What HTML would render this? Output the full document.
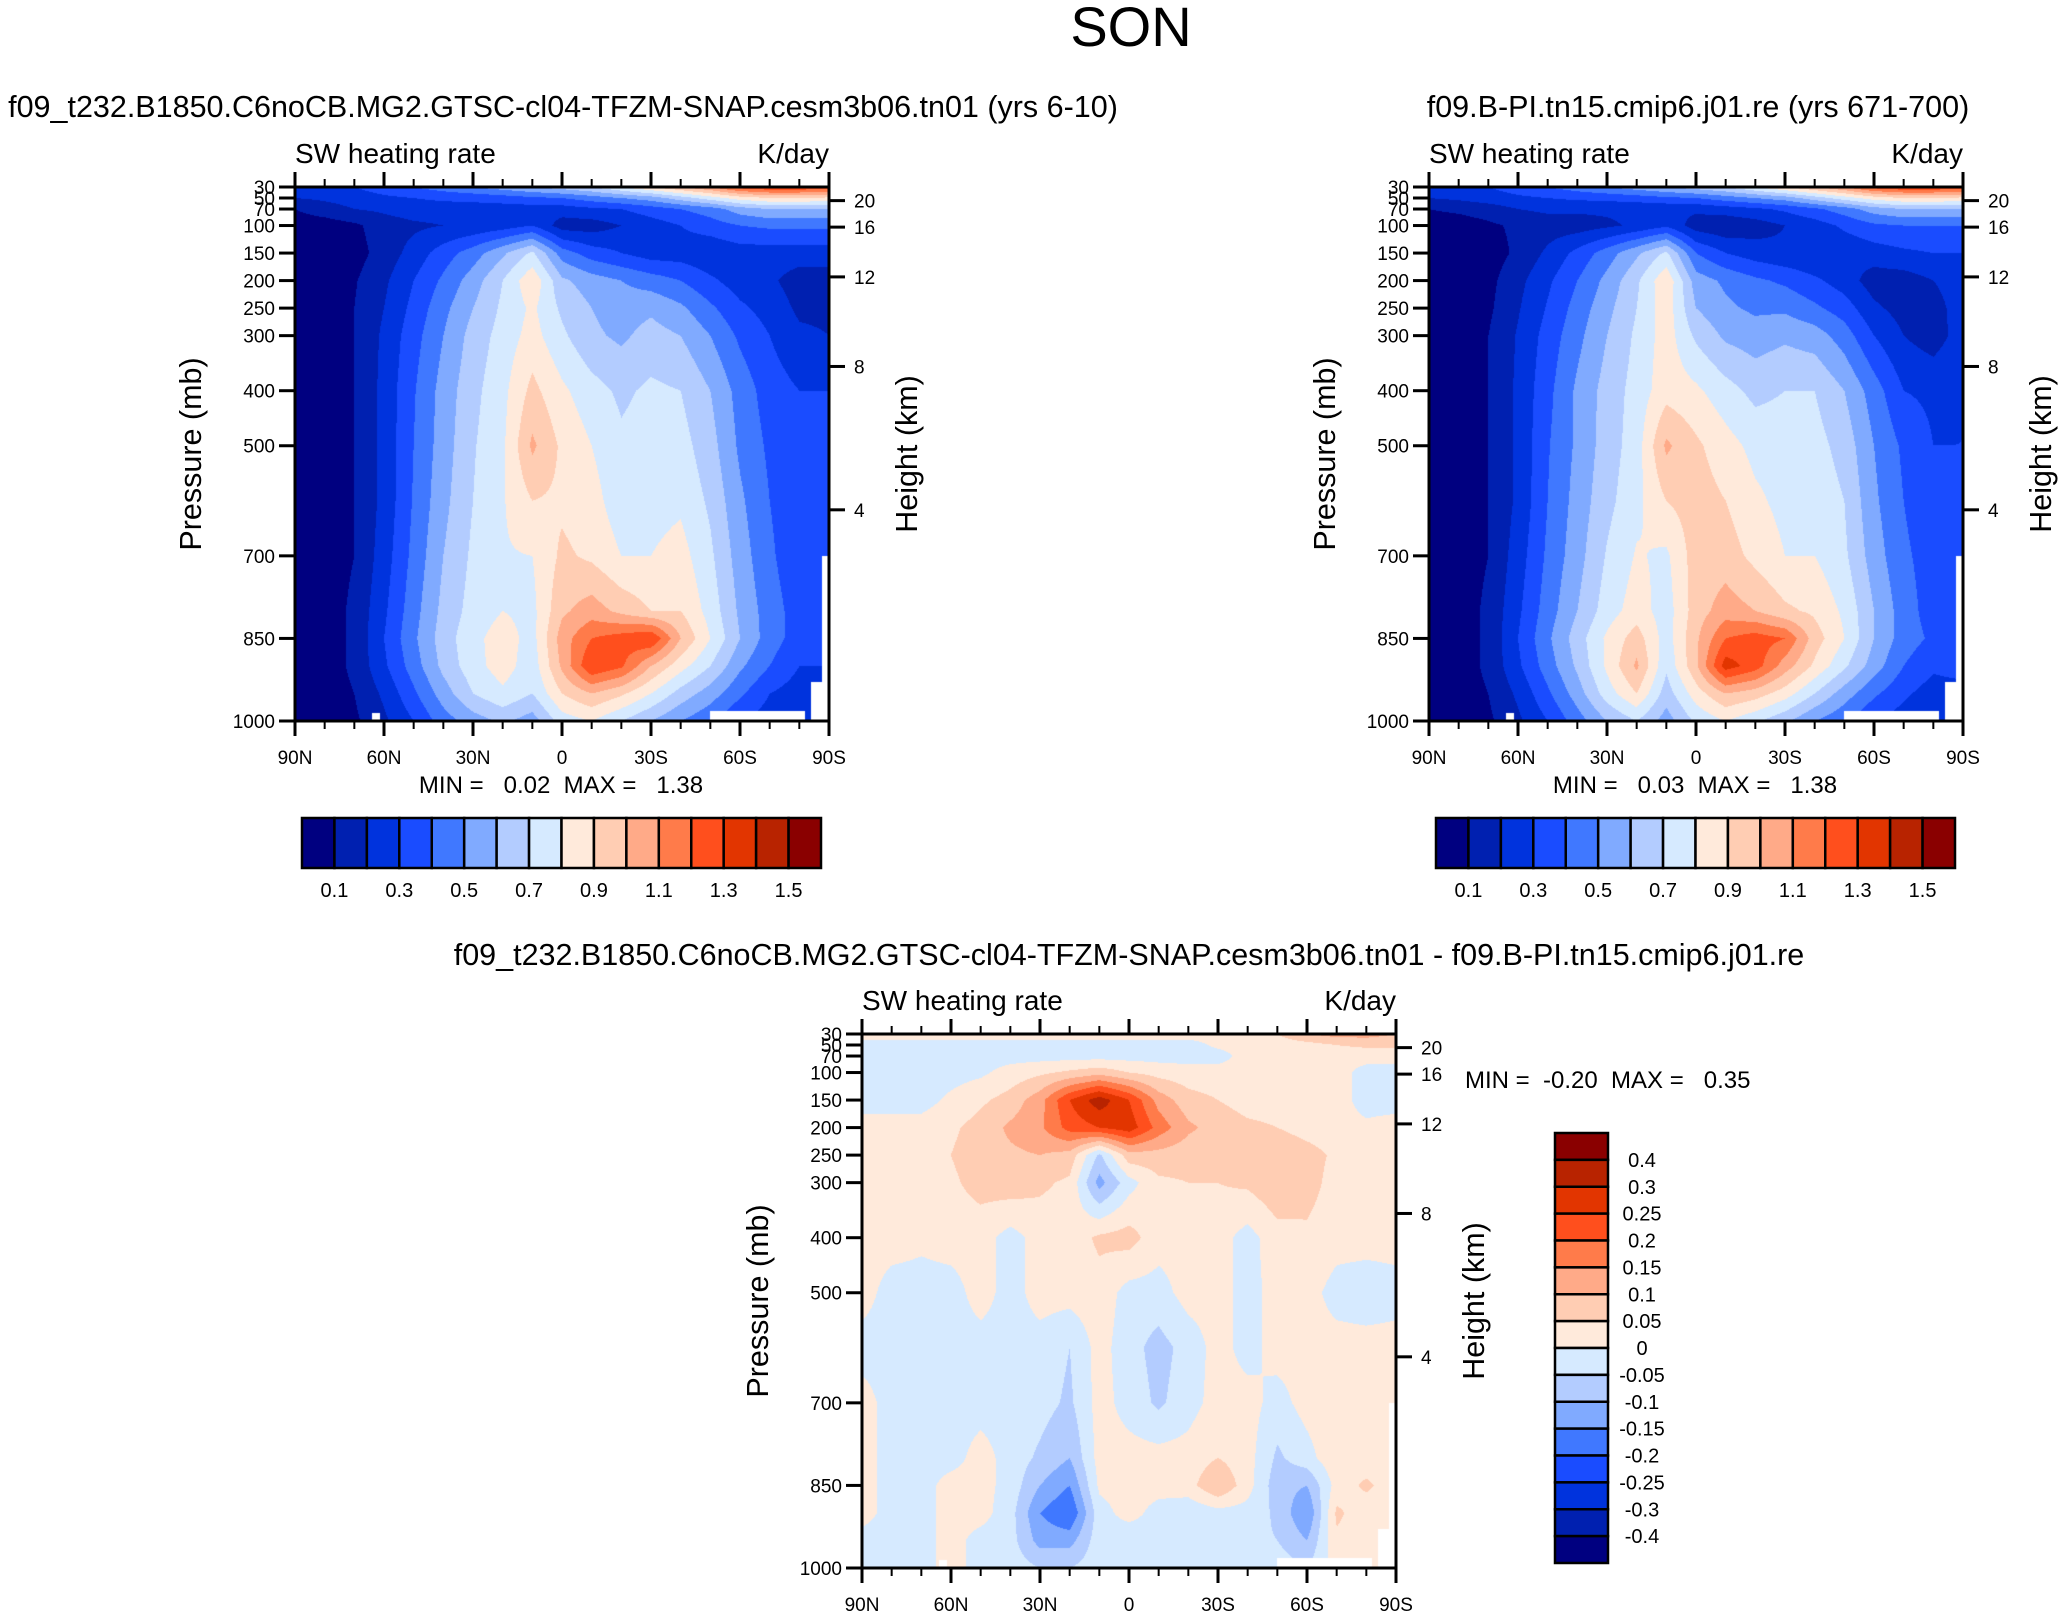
<!DOCTYPE html>
<html><head><meta charset="utf-8"><style>
html,body{margin:0;padding:0;background:#fff;}
#wrap{position:relative;width:2063px;height:1617px;overflow:hidden;background:#fff;}
canvas{position:absolute;}
svg{position:absolute;left:0;top:0;}
text{font-family:"Liberation Sans",sans-serif;fill:#000;white-space:pre;}
</style></head><body>
<div id="wrap">
<canvas id="c1"></canvas>
<canvas id="c2"></canvas>
<canvas id="c3"></canvas>
<svg id="s" width="2063" height="1617">
<text x="1131" y="46" font-size="56" text-anchor="middle">SON</text>
<text x="563" y="117" font-size="30.5" text-anchor="middle">f09_t232.B1850.C6noCB.MG2.GTSC-cl04-TFZM-SNAP.cesm3b06.tn01 (yrs 6-10)</text>
<text x="1698" y="117" font-size="30.5" text-anchor="middle">f09.B-PI.tn15.cmip6.j01.re (yrs 671-700)</text>
<text x="1129" y="965" font-size="30.5" text-anchor="middle">f09_t232.B1850.C6noCB.MG2.GTSC-cl04-TFZM-SNAP.cesm3b06.tn01 - f09.B-PI.tn15.cmip6.j01.re</text>
</svg>
</div>
<script>
var lats=[90,80,70,60,50,40,30,20,10,0,-10,-20,-30,-40,-50,-60,-70,-80,-90];
var levs=[30,50,70,100,150,200,250,300,400,500,600,700,800,850,900,950,1000];
var palette=["#000080","#0020b0","#0033dd","#1a4cff","#4078ff","#80aaff","#b3ccff","#d6eaff","#ffeadb","#ffcdb3","#ffaa88","#ff7b4a","#ff4f1d","#e23500","#b82300","#8a0000"];
var bounds1=[0.1,0.2,0.3,0.4,0.5,0.6,0.7,0.8,0.9,1.0,1.1,1.2,1.3,1.4,1.5];
var cbLabels1=["0.1","0.3","0.5","0.7","0.9","1.1","1.3","1.5"];
var bounds3=[-0.4,-0.3,-0.25,-0.2,-0.15,-0.1,-0.05,0,0.05,0.1,0.15,0.2,0.25,0.3,0.4];
var cbLabels3=["-0.4","-0.3","-0.25","-0.2","-0.15","-0.1","-0.05","0","0.05","0.1","0.15","0.2","0.25","0.3","0.4"];
var presTicks=[30,50,70,100,150,200,250,300,400,500,700,850,1000];
var heightTicks=[4,8,12,16,20];
var latTickLabels=["90N","60N","30N","0","30S","60S","90S"];
var field1=[
[0.3,0.3,0.3,0.35,0.4,0.45,0.5,0.55,0.6,0.65,0.7,0.8,0.9,1.0,1.1,1.25,1.3,1.3,1.25],
[0.2,0.22,0.25,0.28,0.3,0.32,0.33,0.35,0.38,0.4,0.45,0.5,0.55,0.65,0.75,0.85,0.9,0.9,0.88],
[0.1,0.15,0.2,0.22,0.25,0.25,0.25,0.25,0.25,0.25,0.28,0.3,0.35,0.4,0.45,0.55,0.6,0.6,0.6],
[0.05,0.05,0.08,0.15,0.18,0.2,0.22,0.25,0.3,0.15,0.15,0.2,0.25,0.3,0.35,0.4,0.42,0.42,0.42],
[0.05,0.05,0.06,0.14,0.24,0.35,0.45,0.58,0.72,0.45,0.35,0.3,0.25,0.25,0.22,0.25,0.25,0.25,0.25],
[0.05,0.05,0.09,0.18,0.3,0.42,0.55,0.7,0.88,0.62,0.55,0.5,0.45,0.4,0.32,0.25,0.22,0.15,0.15],
[0.05,0.05,0.1,0.2,0.33,0.47,0.6,0.72,0.82,0.68,0.6,0.55,0.58,0.52,0.42,0.32,0.26,0.18,0.18],
[0.05,0.05,0.1,0.22,0.36,0.5,0.64,0.74,0.84,0.72,0.62,0.58,0.64,0.6,0.5,0.38,0.3,0.22,0.2],
[0.05,0.05,0.1,0.23,0.39,0.54,0.67,0.77,0.93,0.82,0.74,0.68,0.72,0.7,0.6,0.46,0.35,0.3,0.3],
[0.05,0.05,0.1,0.23,0.4,0.55,0.69,0.78,1.02,0.88,0.8,0.72,0.75,0.74,0.64,0.48,0.38,0.3,0.3],
[0.05,0.05,0.1,0.23,0.41,0.57,0.7,0.79,0.9,0.88,0.84,0.74,0.76,0.78,0.68,0.52,0.4,0.32,0.3],
[0.05,0.05,0.1,0.25,0.43,0.6,0.72,0.79,0.8,0.92,0.88,0.8,0.8,0.84,0.72,0.55,0.42,0.32,0.3],
[0.05,0.05,0.12,0.28,0.46,0.63,0.74,0.8,0.77,0.98,1.05,0.97,0.9,0.9,0.76,0.58,0.45,0.35,0.35],
[0.05,0.05,0.12,0.3,0.48,0.65,0.77,0.85,0.76,1.05,1.2,1.25,1.3,1.0,0.8,0.6,0.45,0.35,0.35],
[0.05,0.05,0.12,0.28,0.45,0.63,0.76,0.85,0.74,1.02,1.3,1.22,1.0,0.84,0.7,0.52,0.4,0.3,0.3],
[0.05,0.05,0.1,0.22,0.38,0.55,0.7,0.78,0.7,0.9,1.0,0.92,0.8,0.66,0.55,0.42,0.3,0.25,0.25],
[0.05,0.05,0.08,0.18,0.3,0.45,0.55,0.62,0.55,0.75,0.8,0.7,0.6,0.5,0.42,0.3,0.25,0.2,0.2]];
var field2=[
[0.3,0.3,0.3,0.35,0.4,0.45,0.5,0.55,0.6,0.65,0.7,0.8,0.9,1.0,1.1,1.25,1.3,1.3,1.25],
[0.2,0.22,0.25,0.28,0.3,0.32,0.33,0.35,0.38,0.4,0.45,0.5,0.55,0.65,0.75,0.85,0.9,0.9,0.88],
[0.1,0.12,0.15,0.2,0.22,0.22,0.22,0.22,0.22,0.22,0.25,0.28,0.32,0.38,0.45,0.55,0.6,0.6,0.6],
[0.05,0.05,0.08,0.12,0.15,0.15,0.18,0.22,0.28,0.15,0.12,0.15,0.2,0.25,0.32,0.38,0.4,0.4,0.4],
[0.05,0.05,0.05,0.12,0.22,0.33,0.45,0.58,0.72,0.4,0.3,0.25,0.22,0.2,0.22,0.25,0.28,0.3,0.3],
[0.05,0.05,0.07,0.17,0.28,0.4,0.53,0.68,0.88,0.55,0.48,0.42,0.38,0.32,0.25,0.15,0.15,0.2,0.25],
[0.05,0.05,0.08,0.19,0.31,0.44,0.57,0.7,0.86,0.6,0.52,0.48,0.48,0.42,0.35,0.22,0.16,0.16,0.25],
[0.05,0.05,0.1,0.21,0.34,0.47,0.6,0.72,0.85,0.68,0.58,0.55,0.58,0.55,0.45,0.3,0.2,0.15,0.25],
[0.05,0.05,0.1,0.22,0.37,0.52,0.64,0.74,0.86,0.82,0.74,0.67,0.7,0.7,0.6,0.45,0.3,0.28,0.3],
[0.05,0.05,0.1,0.22,0.39,0.52,0.65,0.75,1.02,0.92,0.84,0.77,0.76,0.74,0.66,0.5,0.38,0.3,0.3],
[0.05,0.05,0.1,0.22,0.4,0.54,0.67,0.77,0.9,0.95,0.9,0.82,0.77,0.77,0.7,0.52,0.4,0.32,0.32],
[0.05,0.05,0.1,0.25,0.42,0.56,0.71,0.81,0.78,0.95,0.95,0.87,0.8,0.8,0.72,0.55,0.42,0.35,0.35],
[0.05,0.05,0.12,0.28,0.45,0.6,0.75,0.85,0.75,0.95,1.05,1.0,0.92,0.88,0.78,0.6,0.45,0.35,0.4],
[0.05,0.05,0.12,0.3,0.48,0.65,0.82,0.95,0.75,0.98,1.2,1.25,1.2,0.95,0.8,0.6,0.45,0.38,0.4],
[0.05,0.05,0.12,0.28,0.45,0.62,0.82,1.02,0.72,0.98,1.35,1.25,1.05,0.88,0.72,0.55,0.4,0.32,0.35],
[0.05,0.05,0.1,0.22,0.38,0.55,0.75,0.9,0.65,0.85,1.0,0.95,0.85,0.7,0.55,0.42,0.32,0.25,0.25],
[0.05,0.05,0.08,0.18,0.3,0.45,0.6,0.7,0.55,0.72,0.8,0.72,0.62,0.5,0.42,0.3,0.25,0.2,0.2]];
var field3=[
[0.02,0.02,0.02,0.02,0.02,0.02,0.02,0.02,0.02,0.02,0.02,0.02,0.02,0.03,0.05,0.1,0.12,0.12,0.1],
[-0.02,-0.02,-0.02,-0.02,-0.02,-0.02,-0.02,-0.02,-0.02,-0.02,-0.02,-0.02,0.01,0.02,0.02,0.03,0.05,0.06,0.06],
[-0.02,-0.02,-0.02,-0.02,-0.02,-0.02,-0.02,-0.02,-0.02,-0.02,-0.02,-0.02,-0.02,0.02,0.02,0.02,0.02,0.02,0.02],
[-0.02,-0.02,-0.02,-0.02,-0.01,0.02,0.04,0.06,0.08,0.05,0.03,0.02,0.02,0.02,0.02,0.02,0.02,-0.02,-0.02],
[-0.02,-0.02,-0.02,0.01,0.04,0.07,0.13,0.25,0.33,0.25,0.13,0.07,0.05,0.03,0.03,0.02,0.02,-0.02,-0.02],
[0.02,0.02,0.02,0.04,0.07,0.11,0.14,0.22,0.25,0.28,0.18,0.11,0.08,0.06,0.05,0.03,0.02,0.01,0.02],
[0.02,0.02,0.02,0.05,0.08,0.09,0.1,0.08,-0.06,0.08,0.08,0.07,0.07,0.08,0.09,0.07,0.04,0.02,0.02],
[0.02,0.02,0.02,0.04,0.07,0.08,0.06,0.04,-0.12,-0.02,0.04,0.05,0.05,0.06,0.09,0.07,0.03,0.02,0.02],
[0.02,0.02,0.01,0.02,0.02,-0.02,0.02,0.02,0.06,0.07,0.02,0.02,0.02,-0.02,0.03,0.04,0.02,0.02,0.02],
[0.02,-0.02,-0.02,-0.02,0.02,-0.02,0.02,0.02,0.03,-0.02,-0.02,0.02,0.02,-0.02,0.02,0.02,-0.02,-0.03,-0.02],
[-0.02,-0.02,-0.02,-0.02,-0.02,-0.02,-0.02,-0.05,0.02,-0.03,-0.07,-0.03,0.02,-0.02,0.02,0.02,0.02,0.02,0.02],
[0.02,-0.02,-0.02,-0.02,-0.02,-0.02,-0.03,-0.06,0.02,-0.02,-0.06,-0.02,0.02,0.02,-0.02,0.02,0.04,0.02,0.02],
[0.02,-0.02,-0.02,-0.02,0.02,-0.02,-0.06,-0.1,0.02,0.02,0.02,0.02,0.05,0.02,-0.06,-0.02,0.04,0.02,0.02],
[0.02,-0.02,-0.02,0.02,0.02,-0.02,-0.1,-0.15,0.01,0.02,0.02,0.03,0.1,0.02,-0.08,-0.1,0.02,0.06,0.02],
[0.02,-0.02,-0.02,0.02,0.02,-0.03,-0.15,-0.2,-0.02,0.02,-0.02,-0.04,-0.02,-0.02,-0.06,-0.15,0.06,0.02,0.02],
[-0.02,-0.02,-0.02,0.02,-0.02,-0.03,-0.12,-0.12,-0.02,-0.04,-0.02,-0.05,-0.02,-0.04,-0.05,-0.1,0.04,0.02,0.02],
[-0.02,-0.02,-0.02,0.02,-0.02,-0.02,-0.05,-0.05,-0.02,-0.02,-0.02,-0.02,-0.02,-0.02,-0.02,-0.05,0.02,0.02,0.02]];

var SVGNS="http://www.w3.org/2000/svg";
var svg=document.getElementById('s');
function mk(tag,attrs){var e=document.createElementNS(SVGNS,tag);for(var k in attrs)e.setAttribute(k,attrs[k]);svg.appendChild(e);return e;}
function hex(c){return [parseInt(c.substr(1,2),16),parseInt(c.substr(3,2),16),parseInt(c.substr(5,2),16)];}
var rgb=palette.map(hex);
function interp(field,lat,p){
  var i=0;while(i<lats.length-2&&lat<lats[i+1])i++;
  var j=0;while(j<levs.length-2&&p>levs[j+1])j++;
  var fx=(lats[i]-lat)/(lats[i]-lats[i+1]);var fy=(p-levs[j])/(levs[j+1]-levs[j]);
  var a=field[j][i],b=field[j][i+1],c=field[j+1][i],d=field[j+1][i+1];
  return (a*(1-fx)+b*fx)*(1-fy)+(c*(1-fx)+d*fx)*fy;
}
function stdP(zkm){var z=zkm*1000;if(z<=11000)return 1013.25*Math.pow(1-2.25577e-5*z,5.25588);return 226.32*Math.exp(-(z-11000)/6341.6);}
function masked(lat,p){
  if(p>982&&lat<-50&&lat>-82)return true;
  if(lat<-87.5&&p>700)return true;
  if(lat<-84&&p>930)return true;
  if(p>985&&lat<64&&lat>61.5)return true;
  return false;
}
function drawPanel(cid,L,T,field,bounds,pfx){
  var W=534,H=534;
  var cv=document.getElementById(cid);cv.width=W;cv.height=H;cv.style.left=L+'px';cv.style.top=T+'px';
  var ctx=cv.getContext('2d');var img=ctx.createImageData(W,H);
  for(var y=0;y<H;y++){var p=30+(y+0.5)/H*970;
    for(var x=0;x<W;x++){var lat=90-(x+0.5)/W*180;var k=(y*W+x)*4;
      if(masked(lat,p)){img.data[k]=255;img.data[k+1]=255;img.data[k+2]=255;img.data[k+3]=255;continue;}
      var v=interp(field,lat,p)+1e-4;var idx=0;while(idx<bounds.length&&v>=bounds[idx])idx++;
      var c=rgb[idx];img.data[k]=c[0];img.data[k+1]=c[1];img.data[k+2]=c[2];img.data[k+3]=255;}}
  ctx.putImageData(img,0,0);
  function xOf(lat){return L+(90-lat)/180*W;}
  function yOf(p){return T+(p-30)/970*H;}
  var fr=mk('rect',{x:L,y:T,width:W,height:H,fill:'none',stroke:'#000','stroke-width':3});
  
  
  for(var lt=90;lt>=-90;lt-=10){var major=(lt%30===0);var len=major?15:8;var xx=xOf(lt);
    var t1=mk('line',{x1:xx,y1:T,x2:xx,y2:T-len,stroke:'#000','stroke-width':major?3:2});
    
    
    var t2=mk('line',{x1:xx,y1:T+H,x2:xx,y2:T+H+len,stroke:'#000','stroke-width':major?3:2});
    
    }
  for(var q=0;q<latTickLabels.length;q++){var tx=mk('text',{x:xOf(90-30*q),y:T+H+43,'font-size':19,'text-anchor':'middle'});tx.textContent=latTickLabels[q];
    
    }
  for(var q=0;q<presTicks.length;q++){var yy=yOf(presTicks[q]);
    var pl=mk('line',{x1:L-16,y1:yy,x2:L,y2:yy,stroke:'#000','stroke-width':3});
    
    
    var pt=mk('text',{x:L-20,y:yy+7,'font-size':19,'text-anchor':'end'});pt.textContent=presTicks[q];
    
    }
  for(var q=0;q<heightTicks.length;q++){var yy=yOf(stdP(heightTicks[q]));
    var hl=mk('line',{x1:L+W,y1:yy,x2:L+W+16,y2:yy,stroke:'#000','stroke-width':3});
    
    
    var ht=mk('text',{x:L+W+25,y:yy+7,'font-size':19});ht.textContent=heightTicks[q];
    
    }
  var yt=mk('text',{x:0,y:0,'font-size':30.5,'text-anchor':'middle',transform:'translate('+(L-94)+','+(T+H/2)+') rotate(-90)'});yt.textContent='Pressure (mb)';
  
  
  var rt=mk('text',{x:0,y:0,'font-size':30.5,'text-anchor':'middle',transform:'translate('+(L+W+88)+','+(T+H/2)+') rotate(-90)'});rt.textContent='Height (km)';
  
  
  var lt1=mk('text',{x:L,y:T-24,'font-size':28});lt1.textContent='SW heating rate';
  
  
  var rt1=mk('text',{x:L+W,y:T-24,'font-size':28,'text-anchor':'end'});rt1.textContent='K/day';
  
  
}
function hbar(L,T,W,H,pfx){
  var n=palette.length,bw=W/n;
  for(var i=0;i<n;i++){var r=mk('rect',{x:L+i*bw,y:T,width:bw,height:H,fill:palette[i],stroke:'#000','stroke-width':2.5});
    
    }
  for(var i=0;i<cbLabels1.length;i++){var t=mk('text',{x:L+(1+2*i)*bw,y:T+H+29,'font-size':20,'text-anchor':'middle'});t.textContent=cbLabels1[i];
    
    }
}
drawPanel('c1',295,187,field1,bounds1,'left');
drawPanel('c2',1429,187,field2,bounds1,'right');
drawPanel('c3',862,1034,field3,bounds3,'diff');
hbar(302,818,519,50,'left');
hbar(1436,818,519,50,'right');
(function(){var L=1555,T=1133,W=53,H=430,n=palette.length,bh=H/n;
  for(var i=0;i<n;i++){var r=mk('rect',{x:L,y:T+i*bh,width:W,height:bh,fill:palette[n-1-i],stroke:'#000','stroke-width':2.5});
    
    }
  for(var i=0;i<cbLabels3.length;i++){var t=mk('text',{x:1642,y:T+(i+1)*bh+7,'font-size':20,'text-anchor':'middle'});t.textContent=cbLabels3[cbLabels3.length-1-i];
    
    }
})();
var NB='\u00a0';
var mm=[["MIN ="+NB+NB+NB+"0.02"+NB+NB+"MAX ="+NB+NB+NB+"1.38",561,793,'middle'],["MIN ="+NB+NB+NB+"0.03"+NB+NB+"MAX ="+NB+NB+NB+"1.38",1695,793,'middle'],["MIN ="+NB+NB+"-0.20"+NB+NB+"MAX ="+NB+NB+NB+"0.35",1465,1088,'start']];
for(var i=0;i<mm.length;i++){var t=mk('text',{x:mm[i][1],y:mm[i][2],'font-size':24,'text-anchor':mm[i][3]});t.textContent=mm[i][0];
  
  }
</script>
</body></html>
